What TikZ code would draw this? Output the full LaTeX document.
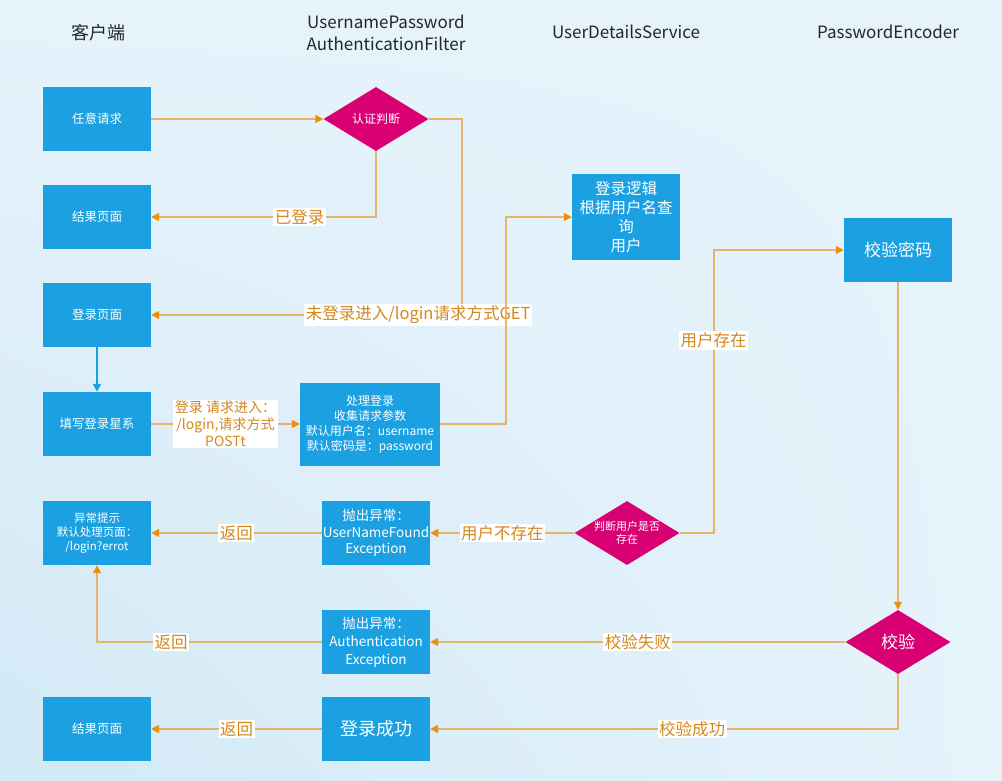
\documentclass[tikz,border=0pt]{standalone}
\usepackage{fontspec}
\setmainfont{Noto Sans CJK SC}
\usetikzlibrary{shapes.geometric,arrows.meta,shadings}
\definecolor{boxblue}{HTML}{1BA1E2}
\definecolor{decpink}{HTML}{D80073}
\definecolor{flowc}{HTML}{E5B468}
\definecolor{tipc}{HTML}{E8920C}
\definecolor{labc}{HTML}{D4881C}
\definecolor{bgA}{HTML}{E6F3FB}
\definecolor{bgB}{HTML}{D2E9F6}

\begin{document}
\begin{tikzpicture}[x=1pt, y=-1pt,
                    box/.style={fill=boxblue, text=white, minimum width=108, minimum height=64,
                                align=center, inner sep=1pt, font=\fontsize{11.5}{14}\selectfont},
                    decide/.style={diamond, fill=decpink, text=white, minimum width=105, minimum height=64,
                                   aspect=1.64, inner sep=0pt, align=center, font=\fontsize{11}{13}\selectfont},
                    head/.style={text=black!85, align=center, font=\fontsize{17}{22}\selectfont},
                    flow/.style={draw=flowc, line width=1.6pt, -{Triangle[length=8pt,width=8pt,color=tipc]}},
                    lab/.style={fill=white, text=labc, inner sep=1.5pt, align=center, font=\fontsize{16.5}{18}\selectfont}]
    \useasboundingbox (0,0) rectangle (1002,780);
    \shade[upper left=bgA, upper right=bgA, lower left=bgB, lower right=bgA] (0,0) rectangle (1002,780);

    \node[head, font=\fontsize{18}{22}\selectfont] (hclient) at (98,33) {客户端};
    \node[head] (hfilter) at (386,33) {UsernamePassword\\AuthenticationFilter};
    \node[head] (hservice) at (626,32) {UserDetailsService};
    \node[head] (hencoder) at (888,32) {PasswordEncoder};

    \node[box, font=\fontsize{12.5}{14}\selectfont] (req) at (97,119) {任意请求};
    \node[box, font=\fontsize{12.5}{14}\selectfont] (res1) at (97,217) {结果页面};
    \node[box, font=\fontsize{12.5}{14}\selectfont] (login) at (97,315) {登录页面};
    \node[box, font=\fontsize{12.5}{14}\selectfont] (fill) at (97,424) {填写登录星系};
    \node[box, minimum width=140, minimum height=83, font=\fontsize{12}{15}\selectfont] (proc) at (370,424)
        {处理登录\\收集请求参数\\默认用户名：username\\默认密码是：password};
    \node[box, minimum height=86, font=\fontsize{15.5}{19}\selectfont] (logic) at (626,217)
        {登录逻辑\\根据用户名查\\询\\用户};
    \node[box, font=\fontsize{17}{20}\selectfont] (verify) at (898,250) {校验密码};
    \node[box] (err) at (97,533) {异常提示\\默认处理页面：\\/login?errot};
    \node[box, font=\fontsize{13.5}{16.5}\selectfont] (unf) at (376,533) {抛出异常：\\UserNameFound\\Exception};
    \node[box, font=\fontsize{13.5}{18}\selectfont] (authex) at (376,642) {抛出异常：\\Authentication\\Exception};
    \node[box, font=\fontsize{12.5}{14}\selectfont] (res2) at (97,729) {结果页面};
    \node[box, font=\fontsize{18}{20}\selectfont] (succ) at (376,729) {登录成功};

    \node[decide, font=\fontsize{12}{14}\selectfont] (auth) at (376,119) {认证判断};
    \node[decide] (chk) at (627,533) {判断用户是否\\存在};
    \node[decide, font=\fontsize{17}{20}\selectfont] (vchk) at (898,642) {校验};

    \draw[flow] (req) -- (auth);
    \draw[flow] (auth.south) |- node[lab, pos=0.67] {已登录} (res1);
    \draw[flow] (auth.east) -- ++(33,0) |- node[lab, pos=0.57] {未登录进入/login请求方式GET} (login);
    \draw[draw=boxblue, line width=1.6pt, -{Triangle[length=8pt,width=8pt]}] (login) -- (fill);
    \draw[flow] (fill) -- node[lab, font=\fontsize{14}{17}\selectfont] {登录 请求进入：\\/login,请求方式\\POSTt} (proc);
    \draw[flow] (proc.east) -- ++(66,0) |- (logic);
    \draw[flow] (chk.east) -- ++(34,0) |- node[lab, pos=0.34] {用户存在} (verify);
    \draw[flow] (chk) -- node[lab] {用户不存在} (unf);
    \draw[flow] (unf) -- node[lab] {返回} (err);
    \draw[flow] (verify) -- (vchk);
    \draw[flow] (vchk) -- node[lab] {校验失败} (authex);
    \draw[flow] (authex.west) -| node[lab, pos=0.335] {返回} (err);
    \draw[flow] (vchk.south) |- node[lab, pos=0.72] {校验成功} (succ);
    \draw[flow] (succ) -- node[lab] {返回} (res2);
\end{tikzpicture}
\end{document}
